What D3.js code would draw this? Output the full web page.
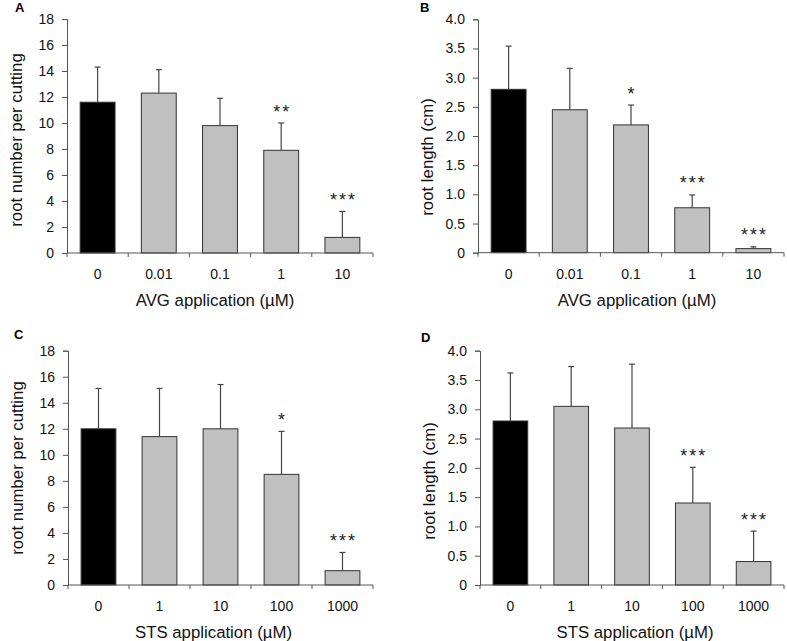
<!DOCTYPE html>
<html><head><meta charset="utf-8">
<script src="https://cdn.jsdelivr.net/npm/d3@7"></script>
<style>
body{margin:0;background:#fff;}
svg{display:block;font-family:"Liberation Sans",Arial,sans-serif;}
</style></head>
<body>
<svg id="chart" width="787" height="641"></svg>
<script>
// ---- data ----
const avgDoses = ["0", "0.01", "0.1", "1", "10"];
const stsDoses = ["0", "1", "10", "100", "1000"];

const avgRootNumber = [11.6, 12.3, 9.8, 7.9, 1.2];
const avgRootNumberErr = [2.7, 1.8, 2.1, 2.1, 2.0];
const avgRootNumberSig = ["", "", "", "**", "***"];

const avgRootLength = [2.80, 2.45, 2.19, 0.77, 0.07];
const avgRootLengthErr = [0.74, 0.71, 0.34, 0.22, 0.03];
const avgRootLengthSig = ["", "", "*", "***", "***"];

const stsRootNumber = [12.0, 11.4, 12.0, 8.5, 1.1];
const stsRootNumberErr = [3.1, 3.7, 3.4, 3.3, 1.4];
const stsRootNumberSig = ["", "", "", "*", "***"];

const stsRootLength = [2.80, 3.05, 2.68, 1.40, 0.40];
const stsRootLengthErr = [0.82, 0.68, 1.09, 0.61, 0.52];
const stsRootLengthSig = ["", "", "", "***", "***"];

const countTicks = [0, 2, 4, 6, 8, 10, 12, 14, 16, 18];
const countTickLabels = ["0", "2", "4", "6", "8", "10", "12", "14", "16", "18"];
const lengthTicks = [0, 0.5, 1.0, 1.5, 2.0, 2.5, 3.0, 3.5, 4.0];
const lengthTickLabels = ["0", "0.5", "1.0", "1.5", "2.0", "2.5", "3.0", "3.5", "4.0"];

const panelLetters = ["A", "B", "C", "D"];
const yTitles = ["root number per cutting", "root length (cm)", "root number per cutting", "root length (cm)"];
const xTitles = ["AVG application (\u00b5M)", "AVG application (\u00b5M)", "STS application (\u00b5M)", "STS application (\u00b5M)"];

// ---- layout ----
const panels = [
  {letter: panelLetters[0], cats: avgDoses, vals: avgRootNumber, errs: avgRootNumberErr, sig: avgRootNumberSig,
   ticks: countTicks, tickLabels: countTickLabels, ymax: 18, x0: 67, x1: 373, yT: 19, yB: 253,
   yTitle: yTitles[0], xTitle: xTitles[0], ytY: 140, xtDx: -5, lx: 15, ly: 12},
  {letter: panelLetters[1], cats: avgDoses, vals: avgRootLength, errs: avgRootLengthErr, sig: avgRootLengthSig,
   ticks: lengthTicks, tickLabels: lengthTickLabels, ymax: 4, x0: 478, x1: 784, yT: 19.3, yB: 252.7,
   yTitle: yTitles[1], xTitle: xTitles[1], ytY: 157, xtDx: 6, lx: 420, ly: 12},
  {letter: panelLetters[2], cats: stsDoses, vals: stsRootNumber, errs: stsRootNumberErr, sig: stsRootNumberSig,
   ticks: countTicks, tickLabels: countTickLabels, ymax: 18, x0: 68, x1: 373, yT: 350.7, yB: 585,
   yTitle: yTitles[2], xTitle: xTitles[2], ytY: 468, xtDx: -7, lx: 14, ly: 339},
  {letter: panelLetters[3], cats: stsDoses, vals: stsRootLength, errs: stsRootLengthErr, sig: stsRootLengthSig,
   ticks: lengthTicks, tickLabels: lengthTickLabels, ymax: 4, x0: 480, x1: 784, yT: 350.7, yB: 585,
   yTitle: yTitles[3], xTitle: xTitles[3], ytY: 481, xtDx: 3, lx: 421, ly: 342}
];

const svg = d3.select("#chart");
const axisColor = "#555";
const barStroke = "#333";

panels.forEach((p, pi) => {
  const g = svg.append("g");
  const x = d3.scaleBand().domain(p.cats).range([p.x0, p.x1]).padding(0);
  const y = d3.scaleLinear().domain([0, p.ymax]).range([p.yB, p.yT]);
  const barW = x.bandwidth() * 0.57;

  // bars
  g.selectAll("rect.bar").data(p.vals).join("rect")
    .attr("class", "bar")
    .attr("x", (d, i) => x(p.cats[i]) + (x.bandwidth() - barW) / 2)
    .attr("y", d => y(d))
    .attr("width", barW)
    .attr("height", d => y(0) - y(d))
    .attr("fill", (d, i) => i === 0 ? "#000" : "#c0c0c0")
    .attr("stroke", barStroke)
    .attr("stroke-width", 1);

  // error bars (upper)
  const cx = i => x(p.cats[i]) + x.bandwidth() / 2;
  g.selectAll("line.err").data(p.vals).join("line")
    .attr("class", "err")
    .attr("x1", (d, i) => cx(i)).attr("x2", (d, i) => cx(i))
    .attr("y1", d => y(d)).attr("y2", (d, i) => y(d + p.errs[i]))
    .attr("stroke", "#444").attr("stroke-width", 1.2);
  g.selectAll("line.cap").data(p.vals).join("line")
    .attr("class", "cap")
    .attr("x1", (d, i) => cx(i) - 3).attr("x2", (d, i) => cx(i) + 3)
    .attr("y1", (d, i) => y(d + p.errs[i])).attr("y2", (d, i) => y(d + p.errs[i]))
    .attr("stroke", "#444").attr("stroke-width", 1.2);

  // significance stars
  g.selectAll("text.sig").data(p.sig).join("text")
    .attr("class", "sig")
    .attr("x", (d, i) => cx(i) + 1)
    .attr("y", (d, i) => y(p.vals[i] + p.errs[i]) - 5.5)
    .attr("text-anchor", "middle")
    .attr("font-size", 18)
    .attr("letter-spacing", 2)
    .attr("fill", "#222")
    .text(d => d);

  // y axis
  const yAxis = d3.axisLeft(y).tickValues(p.ticks)
    .tickFormat((d, i) => p.tickLabels[i]).tickSizeOuter(0).tickSize(5).tickPadding(8);
  const ya = g.append("g").attr("transform", `translate(${p.x0},0)`).call(yAxis);
  ya.select(".domain").attr("stroke", axisColor);
  ya.selectAll(".tick line").attr("stroke", axisColor);
  ya.selectAll(".tick text").attr("font-size", 14).attr("fill", "#111")
    .attr("font-family", '"Liberation Sans",Arial,sans-serif');

  // x axis: ticks at band boundaries
  g.append("line").attr("x1", p.x0).attr("x2", p.x1).attr("y1", p.yB).attr("y2", p.yB)
    .attr("stroke", axisColor);
  const bounds = p.cats.map(c => x(c)).concat([p.x1]);
  g.selectAll("line.xt").data(bounds).join("line")
    .attr("class", "xt")
    .attr("x1", d => d).attr("x2", d => d)
    .attr("y1", p.yB).attr("y2", p.yB + 4)
    .attr("stroke", axisColor);
  g.selectAll("text.xl").data(p.cats).join("text")
    .attr("class", "xl")
    .attr("x", d => x(d) + x.bandwidth() / 2)
    .attr("y", p.yB + 26)
    .attr("text-anchor", "middle")
    .attr("font-size", 14).attr("fill", "#111")
    .text(d => d);

  // titles
  g.append("text")
    .attr("x", (p.x0 + p.x1) / 2 + p.xtDx)
    .attr("y", p.yB + 53)
    .attr("text-anchor", "middle")
    .attr("font-size", 16.8).attr("fill", "#111")
    .text(p.xTitle);
  g.append("text")
    .attr("transform", `translate(${p.x0 - 45},${p.ytY}) rotate(-90)`)
    .attr("text-anchor", "middle")
    .attr("font-size", 16.8).attr("fill", "#111")
    .text(p.yTitle);

  // panel letter
  g.append("text")
    .attr("x", p.lx).attr("y", p.ly)
    .attr("font-size", 13).attr("font-weight", "bold").attr("fill", "#000")
    .text(p.letter);
});
</script>
</body></html>
